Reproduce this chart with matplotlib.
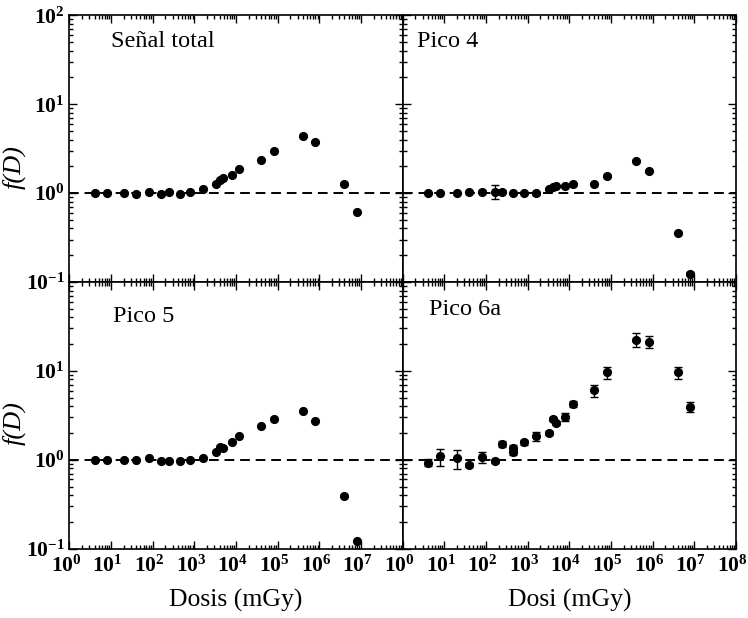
import numpy as np
import matplotlib
matplotlib.use('Agg')
import matplotlib.pyplot as plt
import matplotlib.transforms as mtransforms
from matplotlib.ticker import LogLocator, FuncFormatter, NullFormatter

plt.rcParams['font.family'] = ['Liberation Serif', 'DejaVu Serif']
plt.rcParams['mathtext.fontset'] = 'custom'
plt.rcParams['mathtext.rm'] = 'Liberation Serif:bold'
plt.rcParams['mathtext.bf'] = 'Liberation Serif:bold'
plt.rcParams['mathtext.it'] = 'Liberation Serif:italic'

# dose values (mGy)
dose = [4, 8, 20, 40, 80, 160, 240, 450, 800, 1600, 3300, 4100, 4800,
        8000, 12000, 40000, 80000, 4e5, 8e5, 4e6, 8e6]
dose_6a = [4, 8, 20, 40, 80, 160, 240, 450, 450, 800, 1600, 3300, 4100, 4800,
           8000, 12000, 40000, 80000, 4e5, 8e5, 4e6, 8e6]

senal_total = [1.0, 1.0, 1.0, 0.98, 1.02, 0.97, 1.02, 0.98, 1.03, 1.11, 1.28,
               1.42, 1.47, 1.58, 1.88, 2.37, 2.99, 4.37, 3.77, 1.26, 0.62]
pico4 = [1.0, 1.0, 1.0, 1.03, 1.04, 1.04, 1.04, 1.01, 1.01, 0.99, 1.12,
         1.18, 1.21, 1.2, 1.27, 1.28, 1.55, 2.31, 1.78, 0.355, 0.124]
pico4_err = [0.03, 0.03, 0.03, 0.03, 0.03, 0.19, 0.03, 0.03, 0.03, 0.03, 0.03,
             0.03, 0.03, 0.03, 0.03, 0.03, 0.04, 0.06, 0.05, 0.01, 0.004]
pico5 = [1.0, 1.0, 1.0, 1.0, 1.04, 0.98, 0.97, 0.96, 1.0, 1.04, 1.21,
         1.41, 1.37, 1.57, 1.85, 2.37, 2.9, 3.54, 2.73, 0.396, 0.123]
pico6a = [0.93, 1.09, 1.04, 0.88, 1.07, 0.98, 1.51, 1.36, 1.22, 1.58, 1.83,
          2.01, 2.9, 2.61, 3.02, 4.27, 6.04, 9.64, 22.4, 21.4, 9.64, 3.92]
pico6a_err = [0.08, 0.23, 0.25, 0.05, 0.15, 0.05, 0.1, 0.1, 0.1, 0.1, 0.2,
              0.1, 0.15, 0.15, 0.3, 0.35, 0.9, 1.5, 4.0, 3.5, 1.5, 0.5]

fig = plt.figure(figsize=(7.48, 6.18), dpi=100)
W = 0.4455
H = 0.4315
ax_tl = fig.add_axes([0.0929, 0.5437, W, H])
ax_tr = fig.add_axes([0.0929 + W, 0.5437, W, H])
ax_bl = fig.add_axes([0.0929, 0.5437 - H, W, H])
ax_br = fig.add_axes([0.0929 + W, 0.5437 - H, W, H])

def pow_fmt(v, pos):
    e = int(round(np.log10(v)))
    return r'$\mathbf{10^{%d}}$' % e

panels = [
    (ax_tl, dose, senal_total, None, 'Señal total', (0.125, 0.9)),
    (ax_tr, dose, pico4, pico4_err, 'Pico 4', (0.044, 0.9)),
    (ax_bl, dose, pico5, None, 'Pico 5', (0.13, 0.87)),
    (ax_br, dose_6a, pico6a, pico6a_err, 'Pico 6a', (0.078, 0.895)),
]

for ax, x, y, err, name, pos in panels:
    ax.set_xscale('log')
    ax.set_yscale('log')
    ax.set_xlim(1, 1e8)
    ax.set_ylim(0.1, 100)
    ax.axhline(1, color='black', lw=1.4, dashes=(5, 3), zorder=1)
    if err is None:
        ax.plot(x, y, 'o', color='black', ms=5.6, zorder=3)
    else:
        ax.errorbar(x, y, yerr=err, fmt='o', color='black', ms=5.6,
                    elinewidth=1.0, capsize=2.6, capthick=1.0, zorder=3)
    ax.text(pos[0], pos[1], name, transform=ax.transAxes, fontsize=17.5,
            ha='left', va='center')
    ax.xaxis.set_major_locator(LogLocator(base=10, numticks=20))
    ax.xaxis.set_minor_locator(LogLocator(base=10, subs=np.arange(2, 10), numticks=20))
    ax.yaxis.set_major_locator(LogLocator(base=10, numticks=20))
    ax.yaxis.set_minor_locator(LogLocator(base=10, subs=np.arange(2, 10), numticks=20))
    ax.xaxis.set_minor_formatter(NullFormatter())
    ax.yaxis.set_minor_formatter(NullFormatter())
    ax.tick_params(which='both', direction='in', top=True, right=True,
                   labelsize=15.5, width=1.0)
    ax.tick_params(which='major', length=6)
    ax.tick_params(which='minor', length=3)
    ax.tick_params(axis='x', pad=5)
    for s in ax.spines.values():
        s.set_linewidth(1.2)

# tick labels only on outer edges
for ax in (ax_tl, ax_tr):
    ax.tick_params(labelbottom=False)
for ax in (ax_tr, ax_br):
    ax.tick_params(labelleft=False)

ax_tl.yaxis.set_major_formatter(FuncFormatter(pow_fmt))
ax_bl.yaxis.set_major_formatter(FuncFormatter(
    lambda v, p: '' if v > 50 else pow_fmt(v, p)))
ax_bl.xaxis.set_major_formatter(FuncFormatter(
    lambda v, p: '' if v > 5e7 else pow_fmt(v, p)))
ax_br.xaxis.set_major_formatter(FuncFormatter(pow_fmt))

# centre the "10" (not the whole label) on the tick, as in the original
shift = mtransforms.ScaledTranslation(-2.5 / 72, 0, fig.dpi_scale_trans)
for ax in (ax_bl, ax_br):
    for t in ax.xaxis.get_major_ticks():
        t.label1.set_transform(t.label1.get_transform() + shift)

ax_tl.set_ylabel('f(D)', fontsize=19, fontstyle='italic')
ax_tl.yaxis.set_label_coords(-0.13, 0.43)
ax_bl.set_ylabel('f(D)', fontsize=19, fontstyle='italic')
ax_bl.yaxis.set_label_coords(-0.13, 0.47)
ax_bl.set_xlabel('Dosis (mGy)', fontsize=18.5, labelpad=9)
ax_br.set_xlabel('Dosi (mGy)', fontsize=18.5, labelpad=9)

fig.savefig('out.png', dpi=100)
